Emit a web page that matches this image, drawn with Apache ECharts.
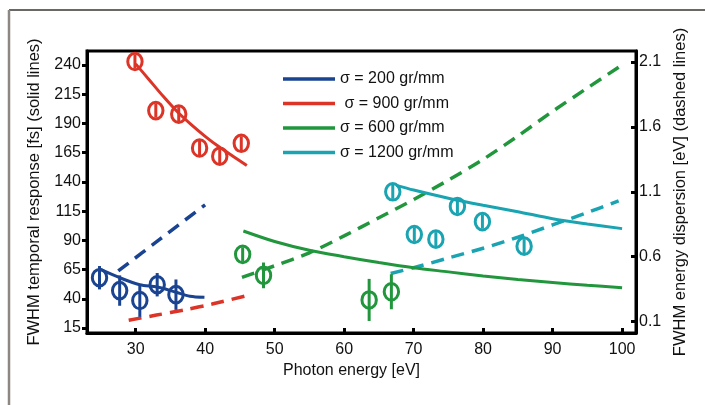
<!DOCTYPE html>
<html>
<head>
<meta charset="utf-8" />
<title>FWHM temporal response</title>
<script type="text/javascript" src="https://cdn.jsdelivr.net/npm/echarts@6/dist/echarts.min.js"></script>
<style>
  html, body { margin: 0; padding: 0; background: #fff; }
</style>
</head>
<body>
<div id="chart" style="width:705px; height:405px"></div>
<script type="text/javascript">
// tick labels
var xTicks = [30, 40, 50, 60, 70, 80, 90, 100];
var leftTicks = [15, 40, 65, 90, 115, 140, 165, 190, 215, 240];
var rightTicks = [0.1, 0.6, 1.1, 1.6, 2.1];

// legend names
var names = ['σ = 200 gr/mm', ' σ = 900 gr/mm', 'σ = 600 gr/mm', 'σ = 1200 gr/mm'];

// measured points [eV, fs, error]
var bluePts = [[24.8, 58, 10], [27.7, 47, 13], [30.6, 38.5, 14], [33.1, 52, 10], [35.8, 43.5, 13]];
var redPts = [[29.9, 243, 6], [32.9, 201, 6], [36.2, 198, 6], [39.2, 169, 6], [42.1, 162, 6], [45.2, 173, 6]];
var greenPts = [[45.4, 78, 6], [48.4, 60, 11], [63.6, 39, 18], [66.8, 46, 15]];
var cyanPts = [[67, 131.5, 6], [70.1, 95, 6], [73.2, 91, 6], [76.3, 119, 6], [79.9, 106, 6], [85.9, 85, 6]];

// solid lines: temporal response [fs]
var blueFit = [[24.8, 65.5], [27.7, 58], [30.6, 52], [33.1, 50], [35.8, 45.6], [37.8, 42.2], [39.9, 41.3]];
var redFit = [[30, 241], [32, 227], [34, 213], [36, 200], [38, 189], [40, 179], [42, 170], [44, 162], [46, 154]];
var greenFit = [[45.5, 98], [50, 89], [55, 81.5], [60, 76], [65, 71], [70, 66.5], [75, 63], [80, 59.5], [85, 56.5], [90, 54], [95, 51.5], [100, 49.5]];
var cyanFit = [[67.5, 137], [70, 133], [75, 126], [80, 120], [85, 114.5], [90, 108.5], [95, 104], [100, 100]];

// dashed lines: energy dispersion [eV]
var blueDisp = [[27.5, 0.49], [33.5, 0.735], [40, 1.0]];
var redDisp = [[29, 0.11], [33, 0.15], [37, 0.19], [41, 0.235], [46, 0.30]];
var greenDisp = [[45.3, 0.44], [50, 0.53], [55, 0.63], [60, 0.76], [65, 0.9], [70, 1.04], [75, 1.19], [80, 1.35], [85, 1.53], [90, 1.72], [95, 1.9], [99.5, 2.06]];
var cyanDisp = [[66.7, 0.47], [70, 0.515], [75, 0.59], [80, 0.665], [85, 0.75], [90, 0.845], [95, 0.94], [99.5, 1.03]];

var BLUE = '#1a4391', RED = '#dc3427', GREEN = '#21963d', CYAN = '#1aa4b2';
var FONT = 'Liberation Sans, Arial, sans-serif';

function solid(name, data, color) {
    return {
        name: name, type: 'line', data: data, yAxisIndex: 0,
        showSymbol: false, smooth: 0.3, color: color,
        lineStyle: { width: 3, color: color }, z: 3
    };
}

function dashed(name, data, color) {
    return {
        name: name, type: 'line', data: data, yAxisIndex: 1,
        showSymbol: false, smooth: 0.3, color: color,
        lineStyle: { width: 3.5, color: color, type: [13, 8] }, z: 2
    };
}

// circle marker with vertical error bar
function marks(name, data, color) {
    return {
        name: name, type: 'custom', data: data, yAxisIndex: 0, z: 5,
        renderItem: function (params, api) {
            var x = api.value(0), y = api.value(1), e = api.value(2);
            var c = api.coord([x, y]);
            var top = api.coord([x, y + e]);
            var bot = api.coord([x, y - e]);
            return {
                type: 'group',
                children: [
                    { type: 'line', shape: { x1: c[0], y1: top[1], x2: c[0], y2: bot[1] },
                      style: { stroke: color, lineWidth: 3 } },
                    { type: 'ellipse', shape: { cx: c[0], cy: c[1], rx: 7.2, ry: 8.3 },
                      style: { fill: 'none', stroke: color, lineWidth: 3 } }
                ]
            };
        }
    };
}

var myChart = echarts.init(document.getElementById('chart'));
myChart.setOption({
    animation: false,
    backgroundColor: '#fff',
    textStyle: { fontFamily: FONT },
    grid: { left: 87, right: 69, top: 51, bottom: 72, show: true, borderColor: '#000', borderWidth: 3 },
    legend: {
        data: names, orient: 'vertical', left: 278, top: 66,
        icon: 'rect', itemWidth: 52, itemHeight: 3.5, itemGap: 8.5,
        selectedMode: false,
        textStyle: { color: '#111', fontSize: 16, lineHeight: 16, fontFamily: FONT }
    },
    xAxis: {
        type: 'value', min: 23, max: 102,
        name: 'Photon energy [eV]', nameLocation: 'middle', nameGap: 26,
        nameTextStyle: { color: '#111', fontSize: 16, padding: [0, 20, 0, 0] },
        axisLine: { lineStyle: { color: '#000', width: 3 } },
        axisTick: { inside: true, length: 5, lineStyle: { width: 3, color: '#000' }, customValues: xTicks },
        axisLabel: { color: '#111', fontSize: 16, margin: 9, customValues: xTicks },
        splitLine: { show: false }
    },
    yAxis: [{
        type: 'value', min: 10.7, max: 252, position: 'left',
        name: 'FWHM temporal response [fs] (solid lines)', nameLocation: 'middle', nameGap: 42,
        nameRotate: 90,
        nameTextStyle: { color: '#111', fontSize: 16.5 },
        axisLine: { lineStyle: { color: '#000', width: 3 } },
        axisTick: { inside: false, length: 5, lineStyle: { width: 3, color: '#000' }, customValues: leftTicks },
        axisLabel: { color: '#111', fontSize: 16, margin: 6, customValues: leftTicks },
        splitLine: { show: false }
    }, {
        type: 'value', min: 0.012, max: 2.185, position: 'right',
        name: 'FWHM energy dispersion [eV] (dashed lines)', nameLocation: 'middle', nameGap: 35,
        nameRotate: 90,
        nameTextStyle: { color: '#111', fontSize: 16.5 },
        axisLine: { lineStyle: { color: '#000', width: 3 } },
        axisTick: { inside: true, length: 5, lineStyle: { width: 3, color: '#000' }, customValues: rightTicks },
        axisLabel: { color: '#111', fontSize: 16, margin: 3, customValues: rightTicks,
            formatter: function (v) { return v.toFixed(1); } },
        splitLine: { show: false }
    }],
    graphic: [
        { type: 'line', shape: { x1: 9, y1: 10, x2: 705, y2: 10 }, style: { stroke: '#3a3531', lineWidth: 1.5 } },
        { type: 'line', shape: { x1: 9, y1: 10, x2: 9, y2: 405 }, style: { stroke: '#8c8782', lineWidth: 2.5 } }
    ],
    series: [
        dashed('blue dashed', blueDisp, BLUE),
        dashed('red dashed', redDisp, RED),
        dashed('green dashed', greenDisp, GREEN),
        dashed('cyan dashed', cyanDisp, CYAN),
        solid(names[0], blueFit, BLUE),
        solid(names[1], redFit, RED),
        solid(names[2], greenFit, GREEN),
        solid(names[3], cyanFit, CYAN),
        marks('blue pts', bluePts, BLUE),
        marks('red pts', redPts, RED),
        marks('green pts', greenPts, GREEN),
        marks('cyan pts', cyanPts, CYAN)
    ]
});
</script>
</body>
</html>
